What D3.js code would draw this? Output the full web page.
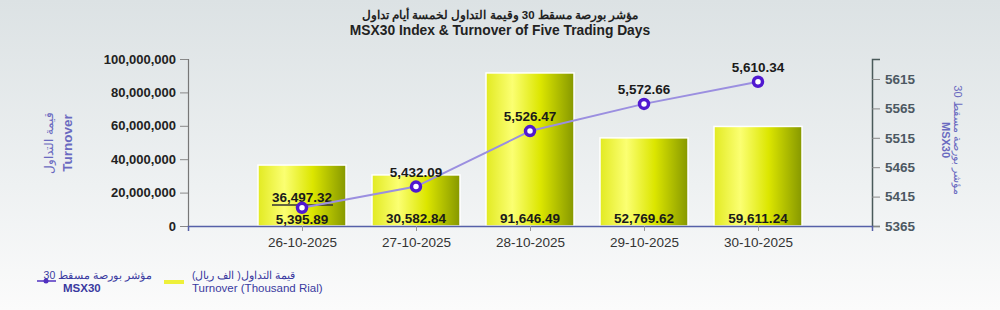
<!DOCTYPE html>
<html><head><meta charset="utf-8">
<script src="https://cdn.jsdelivr.net/npm/d3@7"></script>
<style>body{margin:0;}svg{display:block;font-family:"Liberation Sans",Arial,sans-serif;}</style>
</head><body><svg id="c" width="1000" height="310"></svg>
<script>
const categories = ["26-10-2025","27-10-2025","28-10-2025","29-10-2025","30-10-2025"];
const turnover = [36497.32, 30582.84, 91646.49, 52769.62, 59611.24]; // thousand rial
const msx30 = [5395.89, 5432.09, 5526.47, 5572.66, 5610.34];
const leftTicks = [0, 20000000, 40000000, 60000000, 80000000, 100000000];
const rightTicks = [5365, 5415, 5465, 5515, 5565, 5615];
const titleAr = "مؤشر بورصة مسقط 30 وقيمة التداول لخمسة أيام تداول";
const titleEn = "MSX30 Index & Turnover of Five Trading Days";

const svg = d3.select("#c");
const defs = svg.append("defs");
const bg = defs.append("linearGradient").attr("id","bg").attr("x1",0).attr("y1",0).attr("x2",0).attr("y2",1);
bg.append("stop").attr("offset","0%").attr("stop-color","#dce2e4");
bg.append("stop").attr("offset","60%").attr("stop-color","#eef1f2");
bg.append("stop").attr("offset","100%").attr("stop-color","#fbfbfb");
const bar = defs.append("linearGradient").attr("id","bar").attr("x1",0).attr("y1",0).attr("x2",1).attr("y2",0);
bar.append("stop").attr("offset","0%").attr("stop-color","#e2ea22");
bar.append("stop").attr("offset","30%").attr("stop-color","#fbff72");
bar.append("stop").attr("offset","62%").attr("stop-color","#dce600");
bar.append("stop").attr("offset","100%").attr("stop-color","#869800");

svg.append("rect").attr("width",1000).attr("height",310).attr("fill","url(#bg)");

const L = 188, R = 872, T = 59, B = 226;
const x = d3.scalePoint().domain(categories).range([L, R]).padding(1);
const yL = d3.scaleLinear().domain([0, 100000000]).range([B, T]);
const yR = d3.scaleLinear().domain([5365, 5649]).range([B, T]);
const bw = 88;

// title
svg.append("text").attr("x",500).attr("y",19).attr("text-anchor","middle")
  .attr("font-size",11.5).attr("font-weight","bold").attr("fill","#222").text(titleAr);
svg.append("text").attr("x",500).attr("y",35).attr("text-anchor","middle")
  .attr("font-size",13.8).attr("font-weight","bold").attr("fill","#222").text(titleEn);

// bars
svg.append("g").selectAll("rect").data(turnover).join("rect")
  .attr("x",(d,i)=>x(categories[i])-bw/2).attr("width",bw)
  .attr("y",d=>yL(d*1000)).attr("height",d=>B-yL(d*1000))
  .attr("fill","url(#bar)").attr("stroke","#ffffff").attr("stroke-width",1.5);

// left axis
const gL = svg.append("g").attr("transform",`translate(${L},0)`)
  .call(d3.axisLeft(yL).tickValues(leftTicks).tickFormat(d3.format(",")).tickSize(8).tickPadding(4));
gL.select(".domain").attr("stroke","#777").attr("stroke-width",1.2);
gL.selectAll(".tick line").attr("stroke","#888");
gL.selectAll("text").attr("font-size",13).attr("font-weight","bold").attr("fill","#222")
  .attr("font-family","Liberation Sans, Arial, sans-serif");

// right axis
const gR = svg.append("g").attr("transform",`translate(${R},0)`)
  .call(d3.axisRight(yR).tickValues(rightTicks).tickFormat(d3.format("d")).tickSize(8).tickPadding(5));
gR.select(".domain").attr("stroke","#4a5a5a").attr("stroke-width",1.5);
gR.selectAll(".tick line").attr("stroke","#888");
gR.selectAll("text").attr("font-size",13.5).attr("font-weight","bold").attr("fill","#4c5862")
  .attr("font-family","Liberation Sans, Arial, sans-serif");

// bottom axis
const gB = svg.append("g").attr("transform",`translate(0,${B})`)
  .call(d3.axisBottom(x).tickSize(5).tickPadding(6));
gB.select(".domain").attr("stroke","#5660a8").attr("stroke-width",1.5);
gB.selectAll(".tick line").attr("stroke","#999");
gB.selectAll("text").attr("font-size",13.5).attr("fill","#333")
  .attr("font-family","Liberation Sans, Arial, sans-serif");

// turnover labels
const fmt2 = d3.format(",.2f");
svg.append("g").selectAll("text").data(turnover).join("text")
  .attr("x",(d,i)=>x(categories[i])).attr("y",(d,i)=> i===0 ? 202 : 223)
  .attr("text-anchor","middle").attr("font-size",13.5).attr("font-weight","bold").attr("fill","#1a1a1a")
  .text(d=>fmt2(d));
svg.append("line").attr("x1",x(categories[0])-30).attr("x2",x(categories[0])+31)
  .attr("y1",205).attr("y2",205).attr("stroke","#333").attr("stroke-width",1.5);

// line
const line = d3.line().x((d,i)=>x(categories[i])).y(d=>yR(d));
svg.append("path").datum(msx30).attr("d",line).attr("fill","none")
  .attr("stroke","#9b8fe0").attr("stroke-width",2);
svg.append("g").selectAll("circle").data(msx30).join("circle")
  .attr("cx",(d,i)=>x(categories[i])).attr("cy",d=>yR(d)).attr("r",4.5)
  .attr("fill","#ffffff").attr("stroke","#5018d0").attr("stroke-width",3.5);
svg.append("g").selectAll("text").data(msx30).join("text")
  .attr("x",(d,i)=>x(categories[i])).attr("y",(d,i)=> i===0 ? 224 : yR(d)-10)
  .attr("text-anchor","middle").attr("font-size",13.5).attr("font-weight","bold").attr("fill","#1a1a1a")
  .text(d=>fmt2(d));

// axis titles
const lt = svg.append("g").attr("transform","translate(0,143) rotate(-90)");
lt.append("text").attr("x",0).attr("y",53).attr("text-anchor","middle").attr("font-size",12).attr("fill","#6a6ac0").text("قيمة التداول");
lt.append("text").attr("x",0).attr("y",72).attr("text-anchor","middle").attr("font-size",13.5).attr("font-weight","bold").attr("fill","#6a6ac0").text("Turnover");
const rt = svg.append("g").attr("transform","translate(0,140) rotate(90)");
rt.append("text").attr("x",0).attr("y",-954).attr("text-anchor","middle").attr("font-size",11).attr("fill","#6a6ac0").text("مؤشر بورصة مسقط 30");
rt.append("text").attr("x",0).attr("y",-942).attr("text-anchor","middle").attr("font-size",11).attr("font-weight","bold").attr("fill","#6a6ac0").text("MSX30");

// legend
const lg = svg.append("g");
lg.append("line").attr("x1",37).attr("x2",56).attr("y1",281).attr("y2",281).attr("stroke","#5030c0").attr("stroke-width",1.5);
lg.append("circle").attr("cx",46).attr("cy",281).attr("r",2.5).attr("fill","#5030c0");
lg.append("text").attr("x",152).attr("y",279).attr("text-anchor","end").attr("font-size",10.5).attr("fill","#3a3aa0").text("مؤشر بورصة مسقط 30");
lg.append("text").attr("x",63).attr("y",292).attr("font-size",11.5).attr("font-weight","bold").attr("fill","#3a3aa0").text("MSX30");
lg.append("rect").attr("x",164).attr("y",280).attr("width",20).attr("height",4).attr("fill","#eef03a");
lg.append("text").attr("x",192).attr("y",279).attr("font-size",10.5).attr("fill","#3a3aa0").text("قيمة التداول( الف ريال)");
lg.append("text").attr("x",192).attr("y",292).attr("font-size",11.5).attr("fill","#3a3aa0").text("Turnover (Thousand Rial)");
</script></body></html>
